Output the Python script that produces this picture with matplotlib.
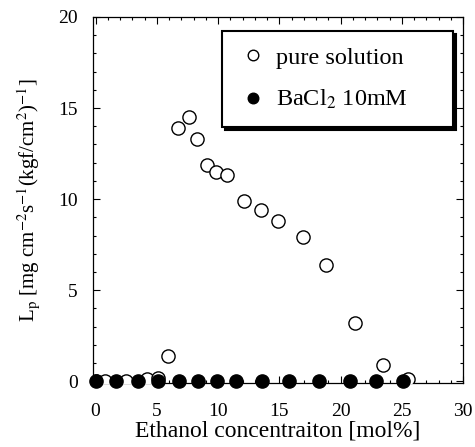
import matplotlib
matplotlib.use("Agg")
import matplotlib.pyplot as plt
from matplotlib.ticker import MultipleLocator

plt.rcParams['font.family'] = ['Liberation Serif', 'DejaVu Serif']
plt.rcParams['mathtext.fontset'] = 'stix'

# pure solution (open circles)
pure_x = [0.0, 0.8, 2.5, 4.2, 5.1, 5.9, 6.7, 7.6, 8.3, 9.1, 9.8, 10.7, 12.1, 13.5, 14.9, 16.9, 18.8, 21.2, 23.5, 25.5]
pure_y = [0.0, 0.0, 0.0, 0.1, 0.2, 1.4, 13.9, 14.5, 13.3, 11.9, 11.5, 11.3, 9.9, 9.4, 8.8, 7.9, 6.4, 3.2, 0.9, 0.1]
# BaCl2 10mM (filled circles)
ba_x = [0.0, 1.7, 3.5, 5.1, 6.8, 8.35, 9.9, 11.5, 13.6, 15.8, 18.2, 20.8, 22.9, 25.1]
ba_y = [0.0] * 14

x_ticks = [0, 5, 10, 15, 20, 25, 30]
y_ticks = [0, 5, 10, 15, 20]

fig = plt.figure(figsize=(4.75, 4.47), dpi=100)
ax = fig.add_axes([0.196, 0.143, 0.779, 0.819])

ax.plot(pure_x, pure_y, 'o', mfc='white', mec='black', mew=1.0, ms=9.5,
        label='pure solution', zorder=3)
ax.plot(ba_x, ba_y, 'o', mfc='black', mec='black', ms=9.5,
        label='BaCl$_2$ 10mM', zorder=4, clip_on=False)

ax.set_xlim(-0.2, 29.5)
ax.set_ylim(-0.1, 20)
ax.set_xticks(x_ticks)
ax.set_yticks(y_ticks)
ax.xaxis.set_minor_locator(MultipleLocator(1))
ax.yaxis.set_minor_locator(MultipleLocator(1))
ax.tick_params(which='both', direction='in', top=True, right=True, width=0.8)
ax.tick_params(which='major', length=5)
ax.tick_params(which='minor', length=2.5)
ax.tick_params(axis='x', which='major', pad=14.5, labelsize=14)
ax.tick_params(axis='y', which='major', pad=11, labelsize=14)
for s in ax.spines.values():
    s.set_linewidth(0.9)

ax.set_xlabel('Ethanol concentraiton [mol%]', fontsize=17, labelpad=0.5)
ax.set_ylabel(r'L$_\mathrm{p}$ [mg cm$^{-2}$s$^{-1}$(kgf/cm$^{2}$)$^{-1}$]',
              fontsize=15, labelpad=12)

leg = ax.legend(loc='upper left', bbox_to_anchor=(0.349, 0.678, 0.624, 0.284),
                mode='expand', borderaxespad=0, fontsize=17.5,
                frameon=True, fancybox=False, edgecolor='black',
                shadow={'color': 'black', 'alpha': 1.0},
                borderpad=0.65, labelspacing=0.8, handletextpad=0.35,
                handlelength=1.2, markerscale=0.8)
leg.get_frame().set_linewidth(1.5)

fig.savefig('out.png', dpi=100)
